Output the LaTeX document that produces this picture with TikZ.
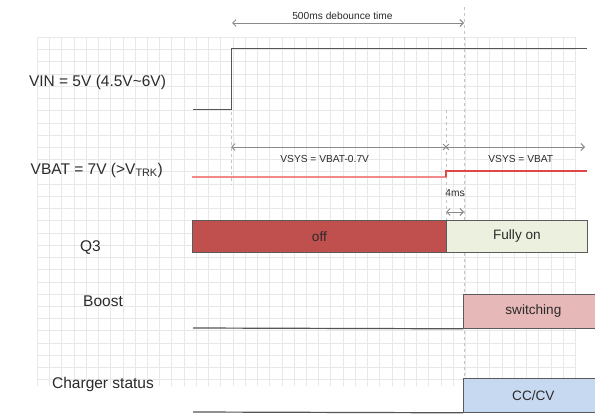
\documentclass[tikz,border=0pt]{standalone}
\usepackage{fontspec}
\setmainfont{Liberation Sans}
\usetikzlibrary{arrows.meta,shapes.misc}

\definecolor{gridc}{HTML}{E8E8E8}
\definecolor{txt}{HTML}{2B2B2B}
\definecolor{dimc}{HTML}{8A8A8A}
\definecolor{dashc}{HTML}{C4C4C4}
\definecolor{wavec}{HTML}{555555}
\definecolor{lowred}{HTML}{F28A8A}
\definecolor{hired}{HTML}{E04848}
\definecolor{offred}{HTML}{C0504D}
\definecolor{ongreen}{HTML}{EBF1DE}
\definecolor{swpink}{HTML}{E6B8B7}
\definecolor{ccblue}{HTML}{C6D9F1}
\definecolor{boxline}{HTML}{5A5A5A}

\begin{document}
\begin{tikzpicture}[x=1pt,y=-1pt,
  gridline/.style={draw=gridc,line width=0.7pt},
  biglabel/.style={text=txt,font=\fontsize{15.5}{18}\selectfont,inner sep=0pt},
  smalllabel/.style={text=txt,font=\fontsize{10.2}{12}\selectfont,inner sep=0pt},
  sigbox/.style={draw=boxline,line width=0.8pt,anchor=north west,inner sep=0pt,
    font=\fontsize{13.6}{16}\selectfont,text=txt},
  wave/.style={draw=wavec,line width=1pt},
  dimline/.style={draw=dimc,line width=0.9pt},
  barbs/.style={{Straight Barb[length=3.5pt,width=7pt]}-{Straight Barb[length=3.5pt,width=7pt]}},
  marker/.style={draw=dashc,line width=0.8pt,dash pattern=on 3pt off 3pt},
]
\useasboundingbox (0,0) rectangle (595,415);
\fill[white] (0,0) rectangle (595,415);

% background grid
\foreach \i in {0,...,44}
  \draw[gridline] ({37.3+12.23*\i},37.3) -- ({37.3+12.23*\i},386);
\foreach \j in {0,...,28}
  \draw[gridline] (37.3,{37.3+12.23*\j}) -- (575.4,{37.3+12.23*\j});

% time markers
\coordinate (tatop) at (231,100);
\coordinate (tabot) at (231,185);
\coordinate (tbtop) at (446,110);
\coordinate (tbmid) at (446,220);
\coordinate (tctop) at (464,7);
\coordinate (tcbot) at (464,412);
\draw[marker] (tatop) -- (tabot);
\draw[marker] (tbtop) -- (tbmid);
\draw[marker] (tctop) -- (tcbot);

% signal names
\node[biglabel] (vinlbl) at (97.5,82) {VIN = 5V (4.5V\textasciitilde 6V)};
\node[biglabel,anchor=west] (vbatlbl) at (30.5,170) {VBAT = 7V (>V\textsubscript{TRK})};
\node[biglabel] (q3lbl) at (90.5,247.5) {Q3};
\node[biglabel] (boostlbl) at (103,301.5) {Boost};
\node[biglabel] (chglbl) at (103,384) {Charger status};

% VIN waveform
\coordinate (vin0) at (193,109);
\coordinate (vin1) at (231,109);
\coordinate (vin2) at (231,48);
\coordinate (vin3) at (587,48);
\draw[wave] (vin0) -- (vin1) -- (vin2) -- (vin3);

% debounce interval
\coordinate (db0) at (232,23);
\coordinate (db1) at (464,23);
\draw[dimline,barbs] (db0) -- (db1);
\node[smalllabel] (dblbl) at (342.5,16.3) {500ms debounce time};

% VSYS intervals
\coordinate (vs0) at (231,147);
\coordinate (vs1) at (585,147);
\node[cross out,draw=dimc,line width=0.9pt,minimum size=5pt,inner sep=0pt] (vsx) at (446,147) {};
\draw[dimline,{Straight Barb[length=3.5pt,width=7pt]}-] (vs0) -- (vsx.center);
\draw[dimline,-{Straight Barb[length=3.5pt,width=7pt]}] (vsx.center) -- (vs1);
\node[smalllabel] (vsalbl) at (324.7,159) {VSYS = VBAT-0.7V};
\node[smalllabel] (vsblbl) at (520.8,159) {VSYS = VBAT};

% VBAT waveform
\coordinate (vb0) at (192,176.7);
\coordinate (vb1) at (446,176.7);
\coordinate (vb2) at (446,171);
\coordinate (vb3) at (587,171);
\draw[draw=lowred,line width=1.6pt] (vb0) -- (vb1);
\draw[draw=hired,line width=1.1pt] (vb1) -- (vb2) -- (vb3);

% 4ms delay
\coordinate (ms0) at (446,212);
\coordinate (ms1) at (464,212);
\draw[dimline,barbs] (ms0) -- (ms1);
\node[smalllabel] (mslbl) at (455,193.3) {4ms};

% Q3 state
\node[sigbox,fill=offred,minimum width=254pt,minimum height=32pt] (off) at (192,220) {off};
\node[sigbox,fill=ongreen,minimum width=141pt,minimum height=32pt] (fullon) at (446,220) {Fully on};
\draw[draw=boxline,line width=0.8pt,dash pattern=on 3pt off 2pt] (off.north east) -- (off.south east);

% Boost state
\node[sigbox,fill=swpink,minimum width=140pt,minimum height=34pt] (sw) at (463,294) {switching};
\coordinate (bl0) at (193,328);
\draw[wave,line width=1.2pt] (bl0) -- (sw.south west);

% Charger state
\node[sigbox,fill=ccblue,minimum width=140pt,minimum height=34pt] (cc) at (463,378) {CC/CV};
\coordinate (cl0) at (193,412);
\draw[wave,line width=1.2pt] (cl0) -- (cc.south west);
\end{tikzpicture}
\end{document}
